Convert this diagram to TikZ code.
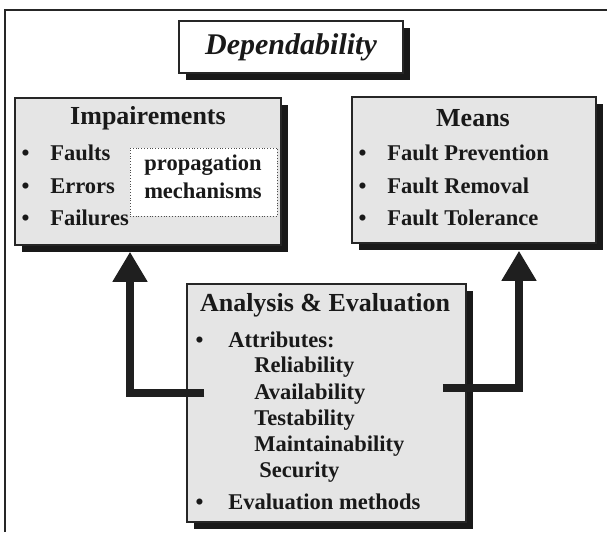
\documentclass[tikz,border=0pt]{standalone}
\usepackage{fontspec}
\setmainfont{Liberation Serif}
\usetikzlibrary{arrows.meta,shadows}

% bullet set in a fixed-width box, so item texts line up
\newcommand{\bul}[1][14.35pt]{\makebox[#1][l]{\textbullet}}

\tikzset{
  panel/.style={draw=black!85, line width=0.75pt, fill=black!10, inner sep=0pt,
    drop shadow={shadow xshift=3.25pt, shadow yshift=-3.25pt, fill=black!90, opacity=1}},
  headline/.style={font=\fontsize{13}{15}\selectfont\bfseries, text=black!90, inner sep=0pt},
  entry/.style={font=\fontsize{11.25}{13}\selectfont\bfseries, text=black!90, inner sep=0pt,
    anchor=west, text height=1.5ex, text depth=.25ex},
  flow/.style={line width=4pt, draw=black!88, line join=miter,
    -{Triangle[width=16.5pt,length=15pt]}}
}

\begin{document}
\begin{tikzpicture}[x=0.5pt, y=-0.5pt]
	\useasboundingbox (0,0) rectangle (607,532);
	
	% Outer frame (right and bottom edges lie off the page)
	\draw[line width=1pt, draw=black!85] (5,532) -- (5,10) -- (607,10);
	
	% Title box
	\node[panel, fill=white, minimum width=112pt, minimum height=26pt,
	      font=\fontsize{15}{18}\selectfont\bfseries\itshape, text=black!90]
	      (depbox) at (291,47) {Dependability};
	
	% Impairements
	\node[panel, minimum width=133pt, minimum height=73.5pt] (impbox) at (148,171.5) {};
	\node[headline] (imptitle) at (148,118) {Impairements};
	\node[entry] (faults) at (21.3,155) {\bul Faults};
	\node[entry] (errors) at (21.3,188) {\bul Errors};
	\node[entry] (failures) at (21.3,220) {\bul Failures};
	\node[draw=black!70, densely dotted, thin, fill=white, minimum width=73.5pt,
	      minimum height=34pt, inner sep=0pt] (propbox) at (203.5,182) {};
	\node[entry, anchor=center, align=center, text height=, text depth=,
	      font=\fontsize{11.25}{14}\selectfont\bfseries] (proptext) at (203,177)
	      {propagation\\mechanisms};
	
	% Means
	\node[panel, minimum width=122pt, minimum height=73pt] (meansbox) at (474,170) {};
	\node[headline] (meanstitle) at (473,118) {Means};
	\node[entry] (prevention) at (358.3,155) {\bul Fault Prevention};
	\node[entry] (removal) at (358.3,188) {\bul Fault Removal};
	\node[entry] (tolerance) at (358.3,220) {\bul Fault Tolerance};
	
	% Analysis & Evaluation
	\node[panel, minimum width=139.5pt, minimum height=119pt] (anabox) at (326.5,403) {};
	\node[headline] (anatitle) at (325,305) {Analysis \& Evaluation};
	\node[entry] (attributes) at (195.3,342) {\bul[16.35pt]Attributes:};
	\node[entry] (reliability) at (254,367) {Reliability};
	\node[entry] (availability) at (254,394) {Availability};
	\node[entry] (testability) at (254,420) {Testability};
	\node[entry] (maintainability) at (254,446) {Maintainability};
	\node[entry] (security) at (259,472) {Security};
	\node[entry] (methods) at (195.3,504) {\bul[16.35pt]Evaluation methods};
	
	% Arrows out of the analysis box
	\draw[flow] ([xshift=9pt,yshift=5pt]anabox.west) -| ([xshift=-9pt,yshift=-3pt]impbox.south);
	\draw[flow] ([xshift=-12pt,yshift=7.5pt]anabox.east) -| ([xshift=22.5pt,yshift=-3.5pt]meansbox.south);
	
\end{tikzpicture}
\end{document}
